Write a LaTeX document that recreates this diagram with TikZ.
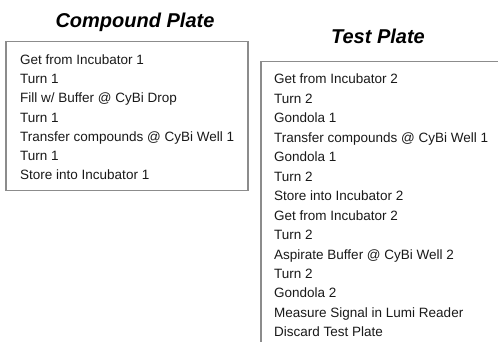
\documentclass[tikz,border=0pt]{standalone}
\usepackage{fontspec}
\setmainfont{Liberation Sans}
\begin{document}
\begin{tikzpicture}[x=1pt,y=-1pt,
  boxline/.style={draw=black!45,line width=1.4pt},
  title/.style={font=\fontsize{20}{24}\selectfont\bfseries\itshape,anchor=base,inner sep=0pt},
  item/.style={font=\fontsize{13.5}{16}\selectfont,anchor=base west,inner sep=0pt,text=black!90}]
\useasboundingbox (0,0) rectangle (498,342);
\node[title] (t1) at (135,28) {Compound Plate};
\node[title] (t2) at (378,44) {Test Plate};
\draw[boxline] (6,41.5) rectangle (248,190.5);
\draw[boxline] (520,61.5) -- (261,61.5) -- (261,360);
\foreach \txt [count=\i from 0] in {Get from Incubator 1,Turn 1,Fill w/ Buffer @ CyBi Drop,Turn 1,Transfer compounds @ CyBi Well 1,Turn 1,Store into Incubator 1}
  \node[item] (l\i) at (20,64.5+19.2*\i) {\txt};
\foreach \txt [count=\i from 0] in {Get from Incubator 2,Turn 2,Gondola 1,Transfer compounds @ CyBi Well 1,Gondola 1,Turn 2,Store into Incubator 2,Get from Incubator 2,Turn 2,Aspirate Buffer @ CyBi Well 2,Turn 2,Gondola 2,Measure Signal in Lumi Reader,Discard Test Plate}
  \node[item] (r\i) at (274,84+19.45*\i) {\txt};
\end{tikzpicture}
\end{document}
